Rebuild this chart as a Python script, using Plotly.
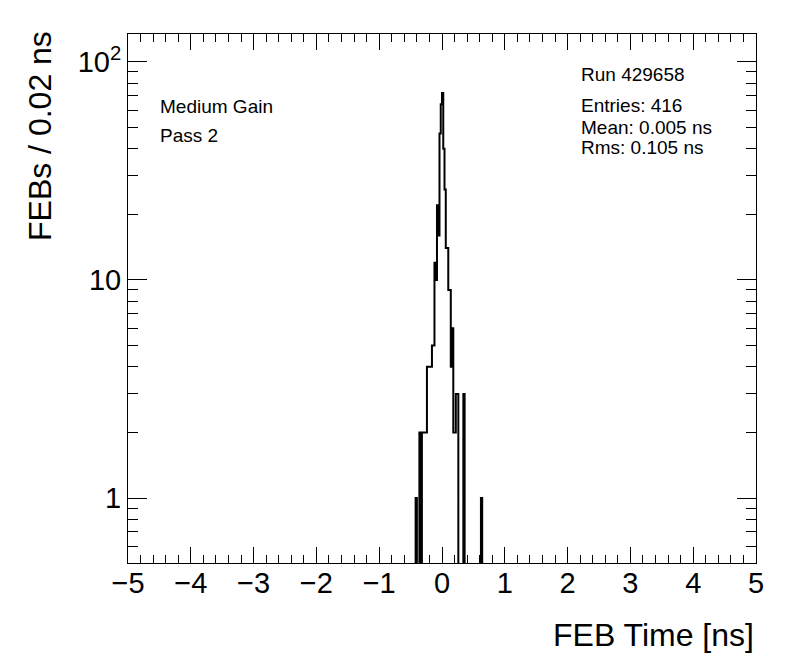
import numpy as np
import plotly.graph_objects as go

# ---- data ----
x_min, x_max, bin_width = -5.0, 5.0, 0.02
bin_lower_edges = [round(-0.42 + 0.02 * i, 2) for i in range(53)]  # -0.42 ... 0.62
feb_counts = [1, 0, 0, 2, 0, 2, 2, 2, 2, 4, 4, 4, 4, 5, 5,
              12, 10, 22, 16, 47, 64, 72,
              40, 26, 14, 14, 9, 9, 4, 6, 2, 2, 3, 3,
              0, 0, 0, 0, 3, 0, 0, 0, 0, 0, 0, 0, 0, 0, 0, 0, 0, 0, 1]
x_tick_vals = [-5, -4, -3, -2, -1, 0, 1, 2, 3, 4, 5]
y_tick_vals = [1, 10, 100]
y_tick_text = ["1", "10", "10<sup>2</sup>"]
stats_lines = ["Run 429658", "Entries: 416", "Mean: 0.005 ns", "Rms: 0.105 ns"]
label_lines = ["Medium Gain", "Pass 2"]

# ---- build full histogram ----
nbins = int(round((x_max - x_min) / bin_width))
edges = np.round(np.linspace(x_min, x_max, nbins + 1), 4)
counts = np.zeros(nbins)
for lo, c in zip(bin_lower_edges, feb_counts):
    k = int(round((lo - x_min) / bin_width))
    counts[k] = c
plot_counts = np.where(counts > 0, counts, 1e-3)  # zero bins drop below the axis
step_y = np.append(plot_counts, plot_counts[-1])

FONT = "Liberation Sans, Arial, Helvetica, sans-serif"

fig = go.Figure()
fig.add_trace(go.Scatter(
    x=edges, y=step_y, mode="lines", line_shape="hv",
    line=dict(color="black", width=2), hoverinfo="skip", showlegend=False))

ymin_log, ymax_log = -0.298, 2.128
minor_y = [v * m for v in (0.1, 1, 10, 100) for m in range(2, 10)]
minor_y = [v for v in minor_y if 10**ymin_log <= v <= 10**ymax_log]

# page body has an 8px margin: figure sized so it fits the 796x672 window
fig.update_layout(
    width=788, height=664,
    margin=dict(l=120, r=40, t=26, b=109),
    paper_bgcolor="white", plot_bgcolor="white",
    font=dict(family=FONT, color="black"),
    xaxis=dict(range=[x_min, x_max], tickmode="array", tickvals=x_tick_vals,
               ticks="inside", ticklen=16, tickwidth=1, tickcolor="black",
               mirror="allticks", showline=True, linecolor="black", linewidth=1,
               showgrid=False, zeroline=False, ticklabelstandoff=-6,
               tickfont=dict(size=29, family=FONT),
               minor=dict(ticks="inside", ticklen=8, dtick=0.2, tickwidth=1,
                          tickcolor="black", showgrid=False)),
    yaxis=dict(type="log", range=[ymin_log, ymax_log], tickmode="array",
               tickvals=y_tick_vals, ticktext=y_tick_text,
               ticks="inside", ticklen=19, tickwidth=1, tickcolor="black",
               mirror="allticks", showline=True, linecolor="black", linewidth=1,
               showgrid=False, zeroline=False,
               tickfont=dict(size=29, family=FONT),
               minor=dict(ticks="inside", ticklen=10, tickmode="array",
                          tickvals=minor_y, tickwidth=1, tickcolor="black",
                          showgrid=False)),
)

PX0, PW, PY1, PH = 128.0, 628.0, 563.0, 529.0  # plot area in window pixels


def px_x(p):
    return (p - PX0) / PW


def px_y(p):
    return (PY1 - p) / PH


annotations = []
# axis titles
annotations.append(dict(text="FEB Time [ns]", x=1.0, y=px_y(635), xref="paper", yref="paper",
                        xanchor="right", yanchor="middle", showarrow=False,
                        font=dict(size=32, family=FONT)))
annotations.append(dict(text="FEBs / 0.02 ns", x=px_x(40), y=px_y(29), xref="paper", yref="paper",
                        xanchor="center", yanchor="top", textangle=-90, showarrow=False,
                        font=dict(size=32, family=FONT)))
# left labels
for i, t in enumerate(label_lines):
    annotations.append(dict(text=t, x=px_x(158), y=px_y(107 + 28 * i),
                            xref="paper", yref="paper", xanchor="left", yanchor="middle",
                            showarrow=False, font=dict(size=19, family=FONT)))
# stats
stat_y = [75, 106, 127, 148]
for t, py in zip(stats_lines, stat_y):
    annotations.append(dict(text=t, x=px_x(579), y=px_y(py),
                            xref="paper", yref="paper", xanchor="left", yanchor="middle",
                            showarrow=False, font=dict(size=19, family=FONT)))
fig.update_layout(annotations=annotations)

fig.write_html("out.html")
